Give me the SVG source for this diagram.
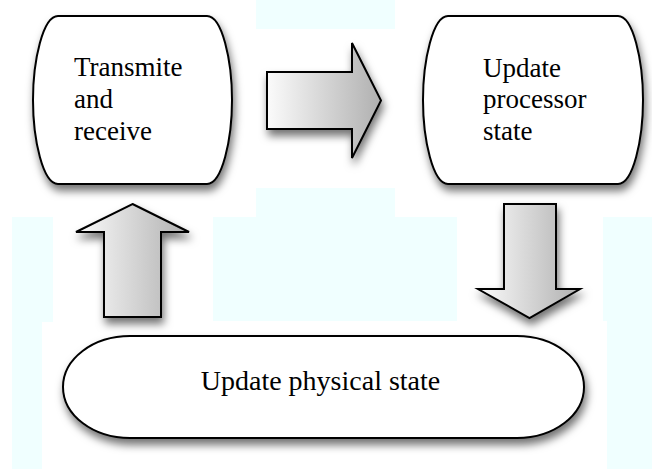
<svg xmlns="http://www.w3.org/2000/svg" width="652" height="471" viewBox="0 0 652 471">
<style>
.bg{fill:#f0ffff}
.node{fill:#ffffff;stroke:#000;stroke-width:2;filter:url(#sh)}
.arrow{fill:url(#g);stroke:#000;stroke-width:2;stroke-linejoin:miter;filter:url(#sh)}
</style>
<defs>
<filter id="sh" x="-20%" y="-20%" width="140%" height="150%">
<feDropShadow dx="2" dy="6" stdDeviation="4" flood-color="#000" flood-opacity="0.55"/>
</filter>
<linearGradient id="g" x1="0" y1="0" x2="1" y2="0">
<stop offset="0" stop-color="#fbfbfb"/>
<stop offset="1" stop-color="#b0b0b0"/>
</linearGradient>
</defs>
<rect width="652" height="471" fill="#ffffff"/>
<g id="background">
<rect class="bg" x="256" y="0" width="139" height="29"/>
<rect class="bg" x="256" y="188" width="139" height="30"/>
<rect class="bg" x="213" y="217" width="244" height="104"/>
<rect class="bg" x="12" y="217" width="41" height="105"/>
<rect class="bg" x="12" y="321" width="30" height="148"/>
<rect class="bg" x="603" y="217" width="49" height="104"/>
<rect class="bg" x="607" y="320" width="45" height="149"/>
</g>
<g id="connectors">
<polygon class="arrow" points="267,72 352,72 352,43 381,100.5 352,158 352,129 267,129"/>
<polygon class="arrow" points="504,204 556,204 556,289 580,289 529.5,318 478,289 504,289"/>
<polygon class="arrow" points="132.5,204 189,232 161,232 161,317 104,317 104,232 76,232"/>
</g>
<g id="node-transmit">
<path class="node" d="M58,16 H207 C222,16 232,60 232,100 C232,140 222,184 207,184 H58 C43,184 33,140 33,100 C33,60 43,16 58,16 Z"/>
<text x="74" y="76" font-family="'Liberation Serif'" font-size="27">Transmite</text>
<text x="74" y="108" font-family="'Liberation Serif'" font-size="27">and</text>
<text x="74" y="140" font-family="'Liberation Serif'" font-size="27">receive</text>
</g>
<g id="node-processor">
<path class="node" d="M448,16 H618 C633,16 643,60 643,100 C643,140 633,184 618,184 H448 C433,184 423,140 423,100 C423,60 433,16 448,16 Z"/>
<text x="483" y="77" font-family="'Liberation Serif'" font-size="27">Update</text>
<text x="483" y="108" font-family="'Liberation Serif'" font-size="27">processor</text>
<text x="483" y="140" font-family="'Liberation Serif'" font-size="27">state</text>
</g>
<g id="node-physical">
<rect class="node" x="63" y="336" width="521" height="102" rx="67" ry="51"/>
<text x="320.5" y="390" text-anchor="middle" font-family="'Liberation Serif'" font-size="28">Update physical state</text>
</g>
</svg>
